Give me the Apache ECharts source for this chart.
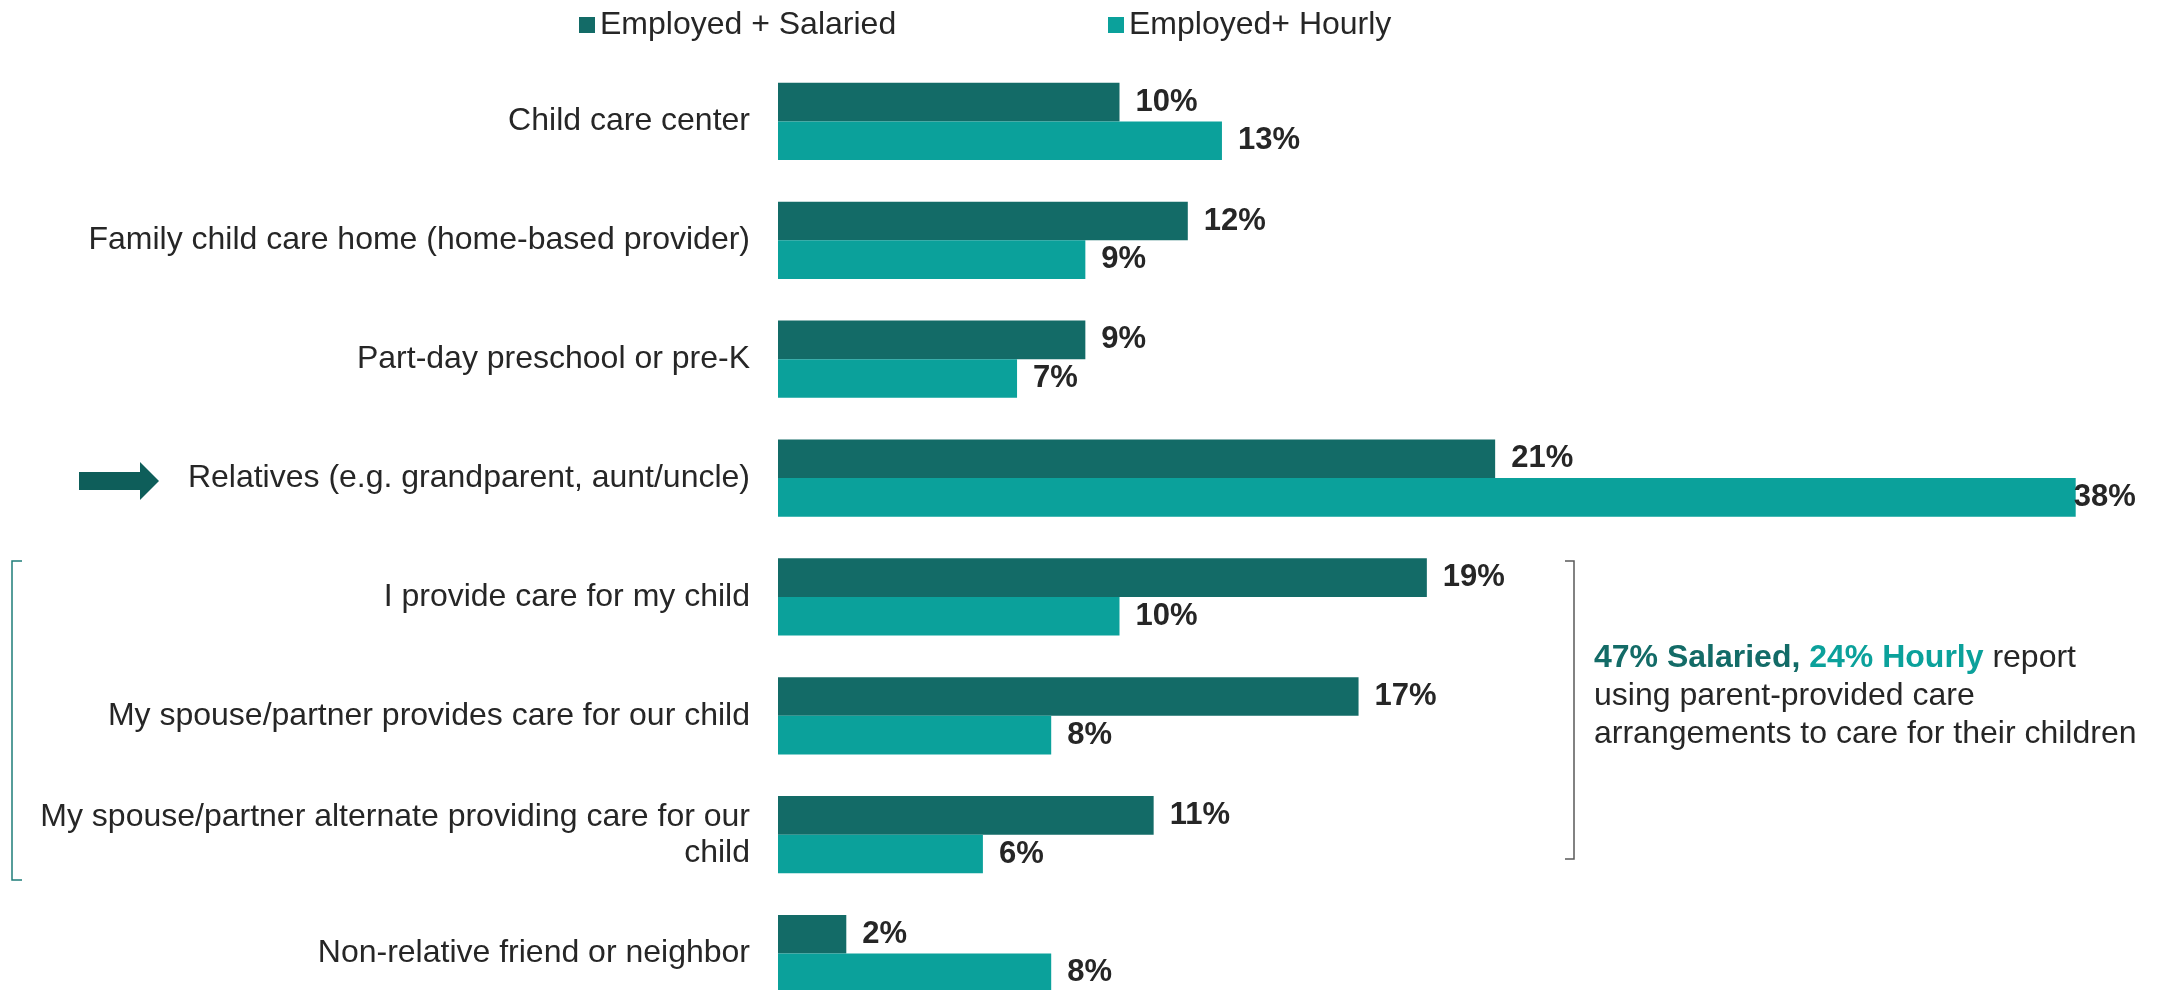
<!DOCTYPE html>
<html>
<head>
<meta charset="utf-8">
<script src="https://cdn.jsdelivr.net/npm/echarts@6/dist/echarts.min.js"></script>
<style>
    html, body { margin: 0; padding: 0; background: #fff; }
    #chart { width: 2167px; height: 990px; }
</style>
</head>
<body>
<div id="chart"></div>
<script>
var categories = [
    'Child care center',
    'Family child care home (home-based provider)',
    'Part-day preschool or pre-K',
    'Relatives (e.g. grandparent, aunt/uncle)',
    'I provide care for my child',
    'My spouse/partner provides care for our child',
    'My spouse/partner alternate providing care for our\nchild',
    'Non-relative friend or neighbor'
];
var salaried = [10, 12, 9, 21, 19, 17, 11, 2];
var hourly = [13, 9, 7, 38, 10, 8, 6, 8];

var DARK = '#136B67';
var LIGHT = '#0BA19B';
var TEXT = '#262626';
var FONT = '"Liberation Sans", Arial, sans-serif';

function draw_chart() {
    var myChart = echarts.init(document.getElementById('chart'));

    // the long bar has its label sitting right on the bar end
    var hourlyData = hourly.map(function (v) {
        if (v > 30) {
            return { value: v, label: { distance: -2 } };
        }
        return v;
    });

    var legendBase = {
        top: 9,
        padding: 0,
        itemWidth: 16,
        itemHeight: 16,
        icon: 'rect',
        textStyle: { fontSize: 32, color: TEXT, fontFamily: FONT }
    };

    var option = {
        animation: false,
        textStyle: { fontFamily: FONT },
        legend: [
            Object.assign({}, legendBase, { left: 579, data: ['Employed + Salaried'] }),
            Object.assign({}, legendBase, { left: 1108, data: ['Employed+ Hourly'] })
        ],
        grid: {
            left: 778,
            top: 62,
            width: 1366,
            height: 951,
            outerBoundsMode: 'none',
            containLabel: false
        },
        xAxis: {
            type: 'value',
            min: 0,
            max: 40,
            show: false,
            splitLine: { show: false }
        },
        yAxis: {
            type: 'category',
            inverse: true,
            data: categories,
            axisLine: { show: false },
            axisTick: { show: false },
            axisLabel: {
                margin: 28,
                fontSize: 32,
                lineHeight: 36,
                color: TEXT,
                fontFamily: FONT
            }
        },
        series: [
            {
                name: 'Employed + Salaried',
                type: 'bar',
                barGap: '0%',
                barCategoryGap: '35%',
                itemStyle: { color: DARK },
                label: {
                    show: true,
                    position: 'right',
                    distance: 16,
                    formatter: '{c}%',
                    fontSize: 31,
                    fontWeight: 'bold',
                    color: TEXT,
                    fontFamily: FONT
                },
                data: salaried
            },
            {
                name: 'Employed+ Hourly',
                type: 'bar',
                barGap: '0%',
                barCategoryGap: '35%',
                itemStyle: { color: LIGHT },
                label: {
                    show: true,
                    position: 'right',
                    distance: 16,
                    formatter: '{c}%',
                    fontSize: 31,
                    fontWeight: 'bold',
                    color: TEXT,
                    fontFamily: FONT
                },
                data: hourlyData
            }
        ],
        graphic: [
            {
                // arrow pointing at Relatives
                type: 'polygon',
                shape: {
                    points: [[79, 472], [140, 472], [140, 462], [159, 481], [140, 500], [140, 490], [79, 490]]
                },
                style: { fill: '#0E5E5A' }
            },
            {
                // left bracket
                type: 'polyline',
                shape: { points: [[22, 561], [12, 561], [12, 880], [22, 880]] },
                style: { stroke: '#1F7E7A', lineWidth: 1.5, fill: null }
            },
            {
                // right bracket
                type: 'polyline',
                shape: { points: [[1565, 561], [1574, 561], [1574, 859], [1565, 859]] },
                style: { stroke: '#595959', lineWidth: 1.5, fill: null }
            },
            {
                type: 'text',
                left: 1594,
                top: 639,
                style: {
                    text: '{a|47% Salaried,} {b|24% Hourly} report\nusing parent-provided care\narrangements to care for their children',
                    fontSize: 32,
                    lineHeight: 38,
                    fill: TEXT,
                    fontFamily: FONT,
                    rich: {
                        a: { fontSize: 32, fontWeight: 'bold', fill: DARK, lineHeight: 38, fontFamily: FONT },
                        b: { fontSize: 32, fontWeight: 'bold', fill: LIGHT, lineHeight: 38, fontFamily: FONT }
                    }
                }
            }
        ]
    };

    myChart.setOption(option);
}

draw_chart();
</script>
</body>
</html>
